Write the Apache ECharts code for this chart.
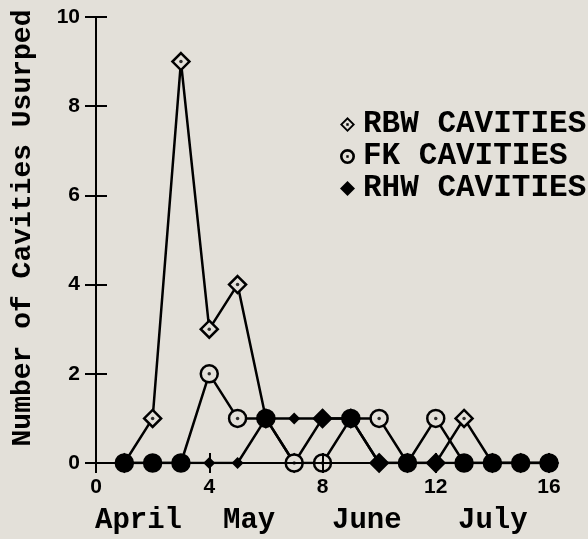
<!DOCTYPE html>
<html>
<head>
<meta charset="utf-8">
<script src="https://cdn.jsdelivr.net/npm/echarts@6/dist/echarts.min.js"></script>
<style>
html, body { margin: 0; padding: 0; background: #e3e0d9; }
#main { width: 588px; height: 539px; }
</style>
</head>
<body>
<div id="main"></div>
<script>
// weeks of the season (x), cavities usurped per week (y)
var weeks = [1, 2, 3, 4, 5, 6, 7, 8, 9, 10, 11, 12, 13, 14, 15, 16];
var rbw = [0, 1, 9, 3, 4, 1, 0, 1, 1, 0, 0, 0, 1, 0, 0, 0];
var fk  = [0, 0, 0, 2, 1, 1, 0, 0, 1, 1, 0, 1, 0, 0, 0, 0];
var rhw = [0, 0, 0, 0, 0, 1, 1, 1, 1, 0, 0, 0, 0, 0, 0, 0];
var names = ['RBW CAVITIES', 'FK CAVITIES', 'RHW CAVITIES'];
var months = ['April', 'May', 'June', 'July'];
var yTitle = 'Number of Cavities Usurped';

var bg = '#e3e0d9';
var mono = '"Liberation Mono", "Courier New", monospace';
var sans = '"Liberation Sans", Arial, sans-serif';

// open marker turns solid black where it sits on an RHW point
function marked(vals) {
    return weeks.map(function (w, i) {
        var p = { value: [w, vals[i]] };
        if (vals[i] === rhw[i]) {
            p.itemStyle = { color: '#000' };
        }
        return p;
    });
}
function centreDots(vals) {
    return weeks.map(function (w, i) { return [w, vals[i]]; })
        .filter(function (p, i) { return vals[i] !== rhw[i]; });
}
function plain(vals) {
    return weeks.map(function (w, i) { return [w, vals[i]]; });
}

var ringDiamond = 'path://M0,-10L10,0L0,10L-10,0Z M0,-6.5L-6.5,0L0,6.5L6.5,0Z M-1.6,-1.6L1.6,-1.6L1.6,1.6L-1.6,1.6Z';
var ringCircle = 'path://M0,-10A10,10 0 1,1 0,10A10,10 0 1,1 0,-10Z M0,-6.5A6.5,6.5 0 1,0 0,6.5A6.5,6.5 0 1,0 0,-6.5Z M-1.6,-1.6L1.6,-1.6L1.6,1.6L-1.6,1.6Z';

var dom = document.getElementById('main');
var myChart = echarts.init(dom);

var lineW = 2.5;
var option = {
    backgroundColor: bg,
    animation: false,
    grid: { left: 96, right: 39, top: 17, bottom: 76 },
    legend: {
        orient: 'vertical',
        left: 335,
        top: 104,
        itemWidth: 15,
        itemHeight: 15,
        itemGap: 1,
        textStyle: {
            fontFamily: mono, fontWeight: 'bold', fontSize: 31, color: '#000',
            padding: [0, 0, 0, 3]
        },
        data: [
            { name: names[0], icon: ringDiamond, itemStyle: { color: '#000', borderWidth: 0 } },
            { name: names[1], icon: ringCircle, itemStyle: { color: '#000', borderWidth: 0 } },
            { name: names[2], icon: 'diamond', itemStyle: { color: '#000', borderWidth: 0 } }
        ]
    },
    xAxis: [
        {
            type: 'value', min: 0, max: 16, interval: 4, position: 'bottom', z: 10,
            axisLine: { lineStyle: { color: '#000', width: 2 } },
            axisTick: { length: 10, lineStyle: { color: '#000', width: 2 } },
            axisLabel: { margin: 14, color: '#000', fontFamily: sans, fontWeight: 'bold', fontSize: 21 },
            splitLine: { show: false }
        },
        {
            type: 'value', min: 0, max: 16, interval: 4, position: 'bottom', z: 10,
            axisLine: { show: false },
            axisTick: { inside: true, length: 10, lineStyle: { color: '#000', width: 2 } },
            axisLabel: { show: false },
            splitLine: { show: false }
        }
    ],
    yAxis: [
        {
            type: 'value', min: 0, max: 10, interval: 2, position: 'left',
            axisLine: { show: true, lineStyle: { color: '#000', width: 2 } },
            axisTick: { show: true, length: 11, lineStyle: { color: '#000', width: 2 } },
            axisLabel: { margin: 16, color: '#000', fontFamily: sans, fontWeight: 'bold', fontSize: 21 },
            splitLine: { show: false }
        },
        {
            type: 'value', min: 0, max: 10, interval: 2, position: 'left',
            axisLine: { show: false },
            axisTick: { show: true, inside: true, length: 11, lineStyle: { color: '#000', width: 2 } },
            axisLabel: { show: false },
            splitLine: { show: false }
        }
    ],
    series: [
        {
            name: names[2], type: 'line', z: 2, data: plain(rhw),
            symbol: 'diamond', symbolSize: 12,
            itemStyle: { color: '#000' },
            lineStyle: { color: '#000', width: lineW }
        },
        {
            name: names[0], type: 'line', z: 3, data: marked(rbw),
            symbol: 'diamond', symbolSize: 17,
            itemStyle: { color: bg, borderColor: '#000', borderWidth: 2.5 },
            lineStyle: { color: '#000', width: lineW }
        },
        {
            name: 'rbw-dot', type: 'scatter', z: 4, data: centreDots(rbw),
            symbol: 'circle', symbolSize: 3.5, itemStyle: { color: '#000' }, silent: true
        },
        {
            name: names[1], type: 'line', z: 5, data: marked(fk),
            symbol: 'circle', symbolSize: 17,
            itemStyle: { color: bg, borderColor: '#000', borderWidth: 2.5 },
            lineStyle: { color: '#000', width: lineW }
        },
        {
            name: 'fk-dot', type: 'scatter', z: 6, data: centreDots(fk),
            symbol: 'circle', symbolSize: 3.5, itemStyle: { color: '#000' }, silent: true
        }
    ]
};

var monthLeft = [95, 223, 332, 458];
var graphics = months.map(function (m, i) {
    return {
        type: 'text', x: monthLeft[i], y: 521,
        style: { text: m, font: 'bold 29px ' + mono, fill: '#000', align: 'left', verticalAlign: 'middle' }
    };
});
graphics.push({
    type: 'text', x: 23, y: 228, rotation: Math.PI / 2,
    style: { text: yTitle, font: 'bold 28px ' + mono, fill: '#000', align: 'center', verticalAlign: 'middle' }
});
option.graphic = graphics;

if (option && typeof option === 'object') {
    myChart.setOption(option);
    window.addEventListener('resize', function () {
        myChart.resize();
    });
}
</script>
</body>
</html>
